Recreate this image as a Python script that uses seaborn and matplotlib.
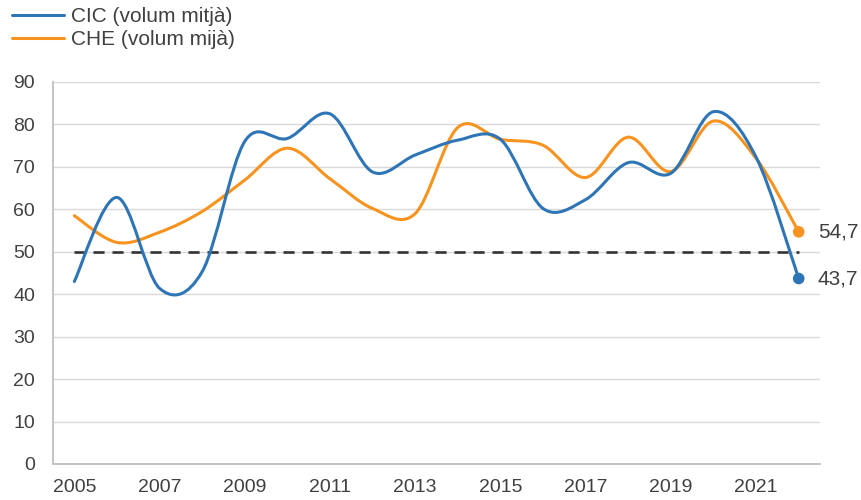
import numpy as np
import matplotlib
matplotlib.use("Agg")
import matplotlib.pyplot as plt
from matplotlib.path import Path
from matplotlib.patches import PathPatch
from matplotlib.lines import Line2D
import seaborn as sns
import pandas as pd

# data
years = list(range(2005, 2023))
cic = [43.0, 62.8, 41.4, 45.3, 76.0, 76.7, 82.5, 68.8, 72.8, 76.3, 76.5, 60.2, 62.3, 71.0, 68.5, 83.0, 72.3, 43.7]
che = [58.5, 52.2, 54.6, 59.5, 66.9, 74.4, 67.2, 60.2, 59.0, 79.3, 76.5, 75.1, 67.5, 77.0, 68.9, 80.8, 72.0, 54.7]
threshold = 50
tick_years = list(range(2005, 2022, 2))
y_ticks = list(range(0, 91, 10))

blue = "#2E75B6"
orange = "#F7931E"
txt = "#404040"

sns.set_theme(style="white")
plt.rcParams['font.family'] = ['Liberation Sans', 'DejaVu Sans']


def smooth_path(xs, ys):
    # Excel-like smoothed line: cubic bezier through every point
    pts = np.column_stack([xs, ys]).astype(float)
    n = len(pts)
    verts = [pts[0]]
    codes = [Path.MOVETO]
    for i in range(n - 1):
        p0 = pts[i - 1] if i > 0 else pts[i]
        p1 = pts[i]
        p2 = pts[i + 1]
        p3 = pts[i + 2] if i + 2 < n else pts[i + 1]
        c1 = p1 + (p2 - p0) / 6.0
        c2 = p2 - (p3 - p1) / 6.0
        verts += [c1, c2, p2]
        codes += [Path.CURVE4] * 3
    return Path(verts, codes)


fig = plt.figure(figsize=(8.62, 5), dpi=100)
ax = fig.add_axes([53 / 862, 36 / 500, (820 - 53) / 862, (464 - 82) / 500])

idx = np.arange(len(years))
df = pd.DataFrame({"i": idx, "cic": cic, "che": che, "thr": threshold})

# reference line at 50
sns.lineplot(data=df, x="i", y="thr", ax=ax, color="#333333", lw=1.9,
             linestyle=(0, (4.2, 3)), zorder=2)

for vals, col in [(che, orange), (cic, blue)]:
    ax.add_patch(PathPatch(smooth_path(idx, vals), facecolor="none",
                           edgecolor=col, lw=2.2, capstyle="round", zorder=3))

last = pd.DataFrame({"i": [idx[-1], idx[-1]], "v": [che[-1], cic[-1]], "s": ["CHE", "CIC"]})
sns.scatterplot(data=last, x="i", y="v", hue="s", palette={"CHE": orange, "CIC": blue},
                s=70, edgecolor="none", ax=ax, legend=False, zorder=4)
for v in [che[-1], cic[-1]]:
    ax.text(idx[-1] + 0.45, v, f"{v:.1f}".replace(".", ","), fontsize=15,
            color=txt, va="center", ha="left", clip_on=False)

ax.set_xlim(-0.5, len(years) - 0.5)
ax.set_ylim(0, 90)
ax.set_yticks(y_ticks)
ax.set_xticks([years.index(y) for y in tick_years])
ax.set_xticklabels([str(y) for y in tick_years])
ax.tick_params(axis="both", length=0, labelsize=14, colors=txt)
ax.tick_params(axis="x", pad=11)
ax.tick_params(axis="y", pad=13)
ax.set_xlabel("")
ax.set_ylabel("")
ax.grid(axis="y", color="#D9D9D9", lw=1)
ax.set_axisbelow(True)
for s in ["top", "right"]:
    ax.spines[s].set_visible(False)
for s in ["left", "bottom"]:
    ax.spines[s].set_color("#BFBFBF")
    ax.spines[s].set_linewidth(1.3)

handles = [Line2D([], [], color=blue, lw=2.2), Line2D([], [], color=orange, lw=2.2)]
fig.legend(handles, ["CIC (volum mitjà)", "CHE (volum mijà)"], loc="upper left",
           bbox_to_anchor=(12 / 862, 1 - 7 / 500), frameon=False, fontsize=15,
           handlelength=2.5, handletextpad=0.35, labelspacing=0.2, borderpad=0,
           borderaxespad=0, labelcolor=txt)

fig.savefig("out.png", dpi=100)
